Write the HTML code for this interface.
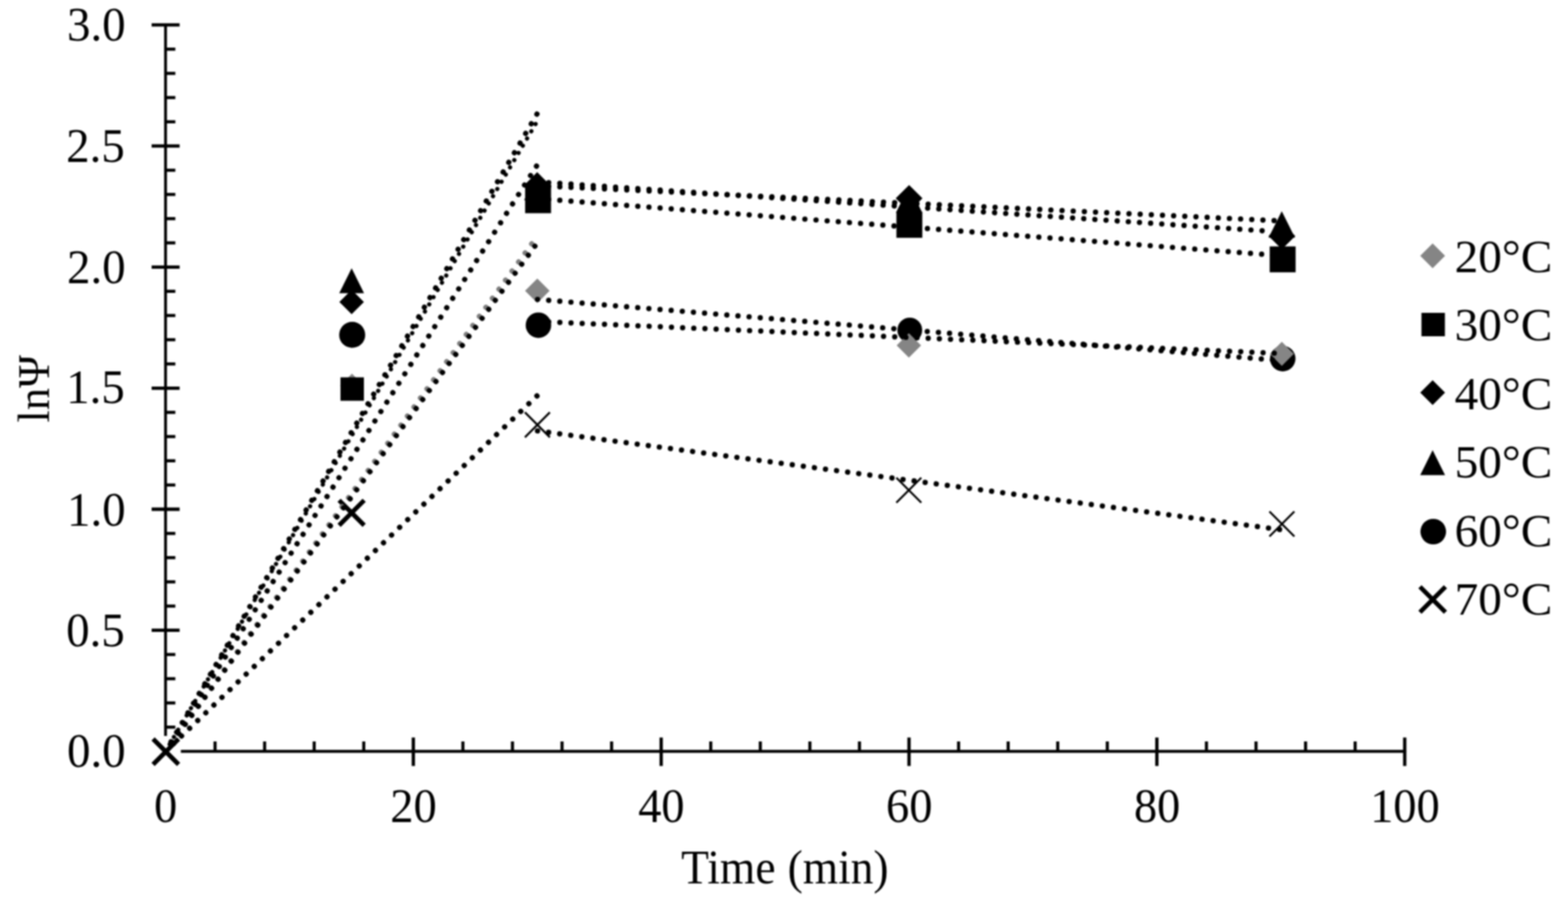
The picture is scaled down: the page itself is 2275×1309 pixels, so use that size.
<!DOCTYPE html>
<html lang="en"><head><meta charset="utf-8"><title>lnΨ versus time</title>
<style>
html,body{margin:0;padding:0;background:#fff;}
body{width:2275px;height:1309px;overflow:hidden;}
svg{display:block;}
text{font-family:"Liberation Serif","DejaVu Serif",serif;font-size:68px;fill:#000;}
.ax{stroke:#000;stroke-width:4.1;fill:none;}
.tk{stroke:#000;stroke-width:4.8;fill:none;}
.mt{stroke:#000;stroke-width:4.5;fill:none;}
.tr{stroke:#000;stroke-width:7.7;stroke-linecap:round;fill:none;}
.t2{stroke:#000;stroke-width:7.7;stroke-linecap:round;fill:none;}
.tg{stroke:#7f7f7f;stroke-width:7.7;stroke-linecap:round;fill:none;}
.tn{stroke:#000;stroke-width:6.2;stroke-linecap:round;fill:none;}
.xb{stroke:#000;stroke-width:6.6;fill:none;}
.xt{stroke:#000;stroke-width:2.9;fill:none;}
</style></head><body>
<svg width="2275" height="1309" viewBox="0 0 2275 1309">
<defs><filter id="soft" x="0" y="0" width="2275" height="1309" filterUnits="userSpaceOnUse" color-interpolation-filters="sRGB"><feGaussianBlur stdDeviation="1"/></filter></defs>
<g filter="url(#soft)">
<rect width="2275" height="1309" fill="#fff"/>
<g id="axes">
<line class="ax" x1="240.2" y1="34.2" x2="240.2" y2="1090.4"/>
<line class="ax" x1="240.1" y1="1090.4" x2="2040.1" y2="1090.4"/>
<line class="tk" x1="220" y1="1090.4" x2="260.6" y2="1090.4"/>
<line class="mt" x1="240" y1="1055.26" x2="254.4" y2="1055.26"/>
<line class="mt" x1="240" y1="1020.12" x2="254.4" y2="1020.12"/>
<line class="mt" x1="240" y1="984.98" x2="254.4" y2="984.98"/>
<line class="mt" x1="240" y1="949.84" x2="254.4" y2="949.84"/>
<line class="tk" x1="220" y1="914.7" x2="260.6" y2="914.7"/>
<line class="mt" x1="240" y1="879.56" x2="254.4" y2="879.56"/>
<line class="mt" x1="240" y1="844.42" x2="254.4" y2="844.42"/>
<line class="mt" x1="240" y1="809.28" x2="254.4" y2="809.28"/>
<line class="mt" x1="240" y1="774.14" x2="254.4" y2="774.14"/>
<line class="tk" x1="220" y1="739" x2="260.6" y2="739"/>
<line class="mt" x1="240" y1="703.86" x2="254.4" y2="703.86"/>
<line class="mt" x1="240" y1="668.72" x2="254.4" y2="668.72"/>
<line class="mt" x1="240" y1="633.58" x2="254.4" y2="633.58"/>
<line class="mt" x1="240" y1="598.44" x2="254.4" y2="598.44"/>
<line class="tk" x1="220" y1="563.3" x2="260.6" y2="563.3"/>
<line class="mt" x1="240" y1="528.16" x2="254.4" y2="528.16"/>
<line class="mt" x1="240" y1="493.02" x2="254.4" y2="493.02"/>
<line class="mt" x1="240" y1="457.88" x2="254.4" y2="457.88"/>
<line class="mt" x1="240" y1="422.74" x2="254.4" y2="422.74"/>
<line class="tk" x1="220" y1="387.6" x2="260.6" y2="387.6"/>
<line class="mt" x1="240" y1="352.46" x2="254.4" y2="352.46"/>
<line class="mt" x1="240" y1="317.32" x2="254.4" y2="317.32"/>
<line class="mt" x1="240" y1="282.18" x2="254.4" y2="282.18"/>
<line class="mt" x1="240" y1="247.04" x2="254.4" y2="247.04"/>
<line class="tk" x1="220" y1="211.9" x2="260.6" y2="211.9"/>
<line class="mt" x1="240" y1="176.76" x2="254.4" y2="176.76"/>
<line class="mt" x1="240" y1="141.62" x2="254.4" y2="141.62"/>
<line class="mt" x1="240" y1="106.48" x2="254.4" y2="106.48"/>
<line class="mt" x1="240" y1="71.34" x2="254.4" y2="71.34"/>
<line class="tk" x1="220" y1="36.2" x2="260.6" y2="36.2"/>
<line class="tk" x1="240.1" y1="1070.3" x2="240.1" y2="1111.6"/>
<line class="mt" x1="312.02" y1="1076" x2="312.02" y2="1090.4"/>
<line class="mt" x1="383.94" y1="1076" x2="383.94" y2="1090.4"/>
<line class="mt" x1="455.86" y1="1076" x2="455.86" y2="1090.4"/>
<line class="mt" x1="527.78" y1="1076" x2="527.78" y2="1090.4"/>
<line class="tk" x1="599.7" y1="1070.3" x2="599.7" y2="1111.6"/>
<line class="mt" x1="671.62" y1="1076" x2="671.62" y2="1090.4"/>
<line class="mt" x1="743.54" y1="1076" x2="743.54" y2="1090.4"/>
<line class="mt" x1="815.46" y1="1076" x2="815.46" y2="1090.4"/>
<line class="mt" x1="887.38" y1="1076" x2="887.38" y2="1090.4"/>
<line class="tk" x1="959.3" y1="1070.3" x2="959.3" y2="1111.6"/>
<line class="mt" x1="1031.22" y1="1076" x2="1031.22" y2="1090.4"/>
<line class="mt" x1="1103.14" y1="1076" x2="1103.14" y2="1090.4"/>
<line class="mt" x1="1175.06" y1="1076" x2="1175.06" y2="1090.4"/>
<line class="mt" x1="1246.98" y1="1076" x2="1246.98" y2="1090.4"/>
<line class="tk" x1="1318.9" y1="1070.3" x2="1318.9" y2="1111.6"/>
<line class="mt" x1="1390.82" y1="1076" x2="1390.82" y2="1090.4"/>
<line class="mt" x1="1462.74" y1="1076" x2="1462.74" y2="1090.4"/>
<line class="mt" x1="1534.66" y1="1076" x2="1534.66" y2="1090.4"/>
<line class="mt" x1="1606.58" y1="1076" x2="1606.58" y2="1090.4"/>
<line class="tk" x1="1678.5" y1="1070.3" x2="1678.5" y2="1111.6"/>
<line class="mt" x1="1750.42" y1="1076" x2="1750.42" y2="1090.4"/>
<line class="mt" x1="1822.34" y1="1076" x2="1822.34" y2="1090.4"/>
<line class="mt" x1="1894.26" y1="1076" x2="1894.26" y2="1090.4"/>
<line class="mt" x1="1966.18" y1="1076" x2="1966.18" y2="1090.4"/>
<line class="tk" x1="2038.1" y1="1070.3" x2="2038.1" y2="1111.6"/>
</g>
<g id="ylabels">
<text transform="translate(182.3,58.6) scale(1,1.03)" text-anchor="end">3.0</text>
<text transform="translate(181.1,234.7) scale(1,1.03)" text-anchor="end">2.5</text>
<text transform="translate(182.3,410.8) scale(1,1.03)" text-anchor="end">2.0</text>
<text transform="translate(181.1,585.4) scale(1,1.03)" text-anchor="end">1.5</text>
<text transform="translate(182.3,762.5) scale(1,1.03)" text-anchor="end">1.0</text>
<text transform="translate(181.1,937.8) scale(1,1.03)" text-anchor="end">0.5</text>
<text transform="translate(182.3,1113.1) scale(1,1.03)" text-anchor="end">0.0</text>
</g>
<g id="xlabels">
<text transform="translate(240.4,1193.3) scale(0.99,1.03)" text-anchor="middle">0</text>
<text transform="translate(600,1193.3) scale(0.99,1.03)" text-anchor="middle">20</text>
<text transform="translate(959.6,1193.3) scale(0.99,1.03)" text-anchor="middle">40</text>
<text transform="translate(1319.2,1193.3) scale(0.99,1.03)" text-anchor="middle">60</text>
<text transform="translate(1678.8,1193.3) scale(0.99,1.03)" text-anchor="middle">80</text>
<text transform="translate(2038.4,1193.3) scale(0.99,1.03)" text-anchor="middle">100</text>
</g>
<text transform="translate(1138.8,1282) scale(0.97,1.03)" text-anchor="middle">Time<tspan dx="1.1"> (min)</tspan></text>
<text transform="translate(70.9,564.2) rotate(-90) scale(0.95,0.97)" text-anchor="middle">lnΨ</text>
<g id="markers">
<rect x="217.6" y="1068" width="44.8" height="45" fill="#fff"/>
<path class="xb" d="M222.1 1072.3L259.1 1109.3M222.1 1109.3L259.1 1072.3"/>
<path d="M510.7 542.3L528 559.6L510.7 576.9L493.4 559.6Z" fill="#858585"/>
<rect x="494" y="547.6" width="34" height="34" fill="#000"/>
<path d="M510.2 420.5L528 438.3L510.2 456.1L492.4 438.3Z" fill="#000"/>
<path d="M510.2 389.2L528.2 425.4L492.2 425.4Z" fill="#000"/>
<circle cx="511" cy="485.9" r="18.9" fill="#000"/>
<path class="xb" d="M492 726L528.4 762.4M492 762.4L528.4 726"/>
<circle cx="781.2" cy="471.9" r="18.5" fill="#000"/>
<path d="M779.6 404.2L797.4 422L779.6 439.8L761.8 422Z" fill="#858585"/>
<rect x="761.9" y="271.8" width="37.6" height="37.6" fill="#000"/>
<path d="M779.4 249.8L798.8 269.2L779.4 288.6L760 269.2Z" fill="#000"/>
<path d="M779.6 252L798.8 290.4L760.4 290.4Z" fill="#000"/>
<path class="xt" d="M761.6 598.4L797.8 634.6M761.6 634.6L797.8 598.4"/>
<circle cx="1320" cy="479" r="18" fill="#000"/>
<path d="M1318.7 483.6L1336.4 501.3L1318.7 519L1301 501.3Z" fill="#858585"/>
<rect x="1300.6" y="307.5" width="37.6" height="37.6" fill="#000"/>
<path d="M1319 268.4L1338.4 287.8L1319 307.2L1299.6 287.8Z" fill="#000"/>
<path d="M1319 270.4L1338.2 308.8L1299.8 308.8Z" fill="#000"/>
<path class="xt" d="M1300.5 693.3L1336.7 729.5M1300.5 729.5L1336.7 693.3"/>
<circle cx="1861.1" cy="520.4" r="18.5" fill="#000"/>
<path d="M1859.8 496.1L1877.2 513.5L1859.8 530.9L1842.4 513.5Z" fill="#858585"/>
<rect x="1842.2" y="357.6" width="37.6" height="37.6" fill="#000"/>
<path d="M1859.9 323L1879.3 342.4L1859.9 361.8L1840.5 342.4Z" fill="#000"/>
<path d="M1859.7 306.6L1878.9 345L1840.5 345Z" fill="#000"/>
<path class="xt" d="M1841.8 742.3L1878 778.5M1841.8 778.5L1878 742.3"/>
</g>
<g id="trend">
<line class="tg" x1="240" y1="1090.5" x2="780.3" y2="341.64" stroke-dasharray="0.01 16.21"/>
<line class="tr" x1="240" y1="1090.5" x2="780.3" y2="351.53" stroke-dasharray="0.01 16.21"/>
<line class="tr" x1="240" y1="1090.5" x2="780.3" y2="573.43" stroke-dasharray="0.01 16.21"/>
<line class="tr" x1="240" y1="1090.5" x2="780.3" y2="238.12" stroke-dasharray="0.01 16.21"/>
<line class="tn" x1="240" y1="1090.5" x2="780.3" y2="174.53" stroke-dasharray="0.01 12.14"/>
<line class="tr" x1="240" y1="1090.5" x2="780.3" y2="163.4" stroke-dasharray="0.01 16.21"/>
<line class="t2" x1="779.9" y1="434.5" x2="1860.5" y2="523.44" stroke-dasharray="0.01 16.2"/>
<line class="t2" x1="779.9" y1="466.5" x2="1860.5" y2="513.02" stroke-dasharray="0.01 16.2"/>
<line class="t2" x1="779.9" y1="625.3" x2="1860.5" y2="768.97" stroke-dasharray="0.01 16.2"/>
<line class="t2" x1="779.9" y1="288.2" x2="1860.5" y2="371.24" stroke-dasharray="0.01 16.2"/>
<line class="t2" x1="779.9" y1="263.9" x2="1840" y2="335.45" stroke-dasharray="0.01 16.2"/>
<line class="t2" x1="779.9" y1="269.5" x2="1860.5" y2="320.62" stroke-dasharray="0.01 16.2"/>
</g>
<g id="legend">
<path d="M2078.6 353.2L2096.6 371.2L2078.6 389.2L2060.6 371.2Z" fill="#858585"/>
<rect x="2062.4" y="454" width="34" height="34" fill="#000"/>
<path d="M2078.6 551.7L2096.6 569.7L2078.6 587.7L2060.6 569.7Z" fill="#000"/>
<path d="M2078.6 653.2L2096.6 689.4L2060.6 689.4Z" fill="#000"/>
<circle cx="2079.5" cy="771.5" r="18.6" fill="#000"/>
<path class="xb" d="M2060.2 851.5L2097.2 888.5M2060.2 888.5L2097.2 851.5"/>
<text transform="translate(2110.4,394.8) scale(1.01,0.98)">20°C</text>
<text transform="translate(2110.4,494.3) scale(1.01,0.98)">30°C</text>
<text transform="translate(2110.4,593.8) scale(1.01,0.98)">40°C</text>
<text transform="translate(2110.4,693.3) scale(1.01,0.98)">50°C</text>
<text transform="translate(2110.4,792.8) scale(1.01,0.98)">60°C</text>
<text transform="translate(2110.4,892.3) scale(1.01,0.98)">70°C</text>
</g>
</g>
</svg>
</body></html>
